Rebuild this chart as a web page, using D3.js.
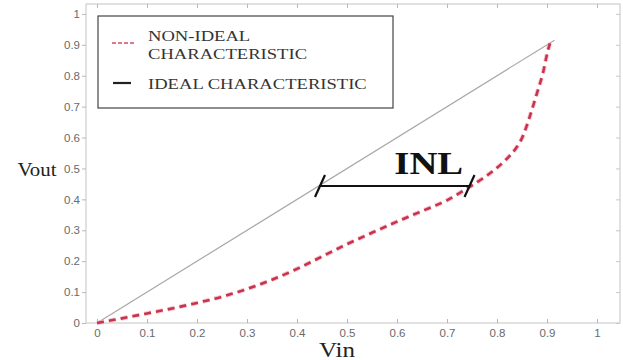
<!DOCTYPE html>
<html><head><meta charset="utf-8">
<script src="https://cdn.jsdelivr.net/npm/d3@7"></script>
<style>body{margin:0;background:#fff}svg{display:block}
.serif{font-family:"Liberation Serif","Times New Roman",Times,serif}
.sans{font-family:"Liberation Sans",Arial,sans-serif}</style>
</head><body>
<svg id="c" width="623" height="360"></svg>
<script>
// ---- data ----
const xTicks = [0,0.1,0.2,0.3,0.4,0.5,0.6,0.7,0.8,0.9,1];
const yTicks = [0,0.1,0.2,0.3,0.4,0.5,0.6,0.7,0.8,0.9,1];
const xTickLabels = ["0","0.1","0.2","0.3","0.4","0.5","0.6","0.7","0.8","0.9","1"];
const yTickLabels = ["0","0.1","0.2","0.3","0.4","0.5","0.6","0.7","0.8","0.9","1"];
const idealX = [0, 0.915];
const idealY = [0, 0.915];
const nonIdealX = [0,0.05,0.1,0.15,0.2,0.25,0.3,0.35,0.4,0.45,0.5,0.55,0.6,0.65,0.7,0.74,0.77,0.8,0.82,0.84,0.85,0.865,0.88,0.892,0.902,0.906];
const nonIdealY = [0,0.015,0.031,0.047,0.065,0.085,0.11,0.14,0.175,0.215,0.255,0.292,0.328,0.362,0.397,0.435,0.466,0.502,0.532,0.57,0.598,0.665,0.744,0.809,0.883,0.905];
const inlY = 0.443, inlX0 = 0.446, inlX1 = 0.745;
const legendLabels = [["NON-IDEAL","CHARACTERISTIC"],["IDEAL CHARACTERISTIC"]];

// ---- layout ----
const svg = d3.select("#c");
const L = 86, R = 620, T = 4, B = 323;
const x = d3.scaleLinear().domain([-0.022, 1.046]).range([L, R]);
const y = d3.scaleLinear().domain([0, 1.032]).range([B, T]);

function label(px, py, txt, size, sx, anchor, extra){
  const t = svg.append("text").attr("class","serif")
    .attr("transform",`translate(${px},${py}) scale(${sx},1)`)
    .attr("text-anchor",anchor).style("font-size",size+"px").attr("fill","#222").text(txt);
  if (extra) extra(t);
  return t;
}

// axes box
svg.append("rect").attr("x",L).attr("y",T).attr("width",R-L).attr("height",B-T)
  .attr("fill","none").attr("stroke","#c4c4c4").attr("stroke-width",1);

// x ticks bottom (inward) and top
const gx = svg.append("g").attr("transform",`translate(0,${B})`)
  .call(d3.axisBottom(x).tickValues(xTicks).tickSizeInner(-4).tickSizeOuter(0)
    .tickPadding(6).tickFormat((d,i)=>xTickLabels[i]));
gx.select(".domain").remove();
gx.selectAll("line").attr("stroke","#b8b8b8");
gx.selectAll("text").attr("class","sans").attr("fill","#6a6a6a").style("font-size","11.5px");
const gxt = svg.append("g").attr("transform",`translate(0,${T})`)
  .call(d3.axisTop(x).tickValues(xTicks).tickSizeInner(-4).tickSizeOuter(0).tickFormat(""));
gxt.select(".domain").remove();
gxt.selectAll("line").attr("stroke","#b8b8b8");

// y ticks
const gy = svg.append("g").attr("transform",`translate(${L},0)`)
  .call(d3.axisLeft(y).tickValues(yTicks).tickSizeInner(4).tickSizeOuter(0)
    .tickPadding(2).tickFormat((d,i)=>yTickLabels[i]));
gy.select(".domain").remove();
gy.selectAll("line").attr("stroke","#b8b8b8");
gy.selectAll("text").attr("class","sans").attr("fill","#6a6a6a").style("font-size","11.5px");
const gyr = svg.append("g").attr("transform",`translate(${R},0)`)
  .call(d3.axisRight(y).tickValues(yTicks).tickSizeInner(-4).tickSizeOuter(0).tickFormat(""));
gyr.select(".domain").remove();
gyr.selectAll("line").attr("stroke","#c8c8c8");

// ideal line
const line = d3.line().x(d=>x(d[0])).y(d=>y(d[1]));
svg.append("path").datum(idealX.map((v,i)=>[v,idealY[i]])).attr("d",line)
  .attr("fill","none").attr("stroke","#a8a8a8").attr("stroke-width",1.2);

// non-ideal curve
const curve = d3.line().x(d=>x(d[0])).y(d=>y(d[1])).curve(d3.curveMonotoneX);
const nd = nonIdealX.map((v,i)=>[v,nonIdealY[i]]);
svg.append("path").datum(nd).attr("d",curve).attr("fill","none")
  .attr("stroke","#f3b0bc").attr("stroke-width",4.5).attr("stroke-dasharray","7,5").attr("opacity",0.7);
svg.append("path").datum(nd).attr("d",curve).attr("fill","none")
  .attr("stroke","#c8344e").attr("stroke-width",2.6).attr("stroke-dasharray","7,5");

// INL annotation
svg.append("line").attr("x1",x(inlX0)).attr("x2",x(inlX1)).attr("y1",y(inlY)).attr("y2",y(inlY))
  .attr("stroke","#111").attr("stroke-width",2);
[inlX0, inlX1].forEach(v=>{
  svg.append("line").attr("x1",x(v)-5).attr("y1",y(inlY)+11).attr("x2",x(v)+5).attr("y2",y(inlY)-11)
    .attr("stroke","#111").attr("stroke-width",2.2);
});
label((x(inlX0)+x(inlX1))/2+34, 174, "INL", 31, 1.25, "middle",
  t=>t.style("font-weight","bold").attr("fill","#111"));

// axis labels
label(37, 176, "Vout", 19, 1.1, "middle");
label(337, 357, "Vin", 20, 1.25, "middle");

// legend
svg.append("rect").attr("x",98).attr("y",16).attr("width",295).attr("height",92)
  .attr("fill","#fff").attr("stroke","#444").attr("stroke-width",1.2);
svg.append("line").attr("x1",112).attr("x2",134).attr("y1",43).attr("y2",43)
  .attr("stroke","#d84a60").attr("stroke-width",1.3).attr("stroke-dasharray","4,2");
svg.append("line").attr("x1",113).attr("x2",131).attr("y1",83).attr("y2",83)
  .attr("stroke","#222").attr("stroke-width",2.2);
[[legendLabels[0][0],41],[legendLabels[0][1],59],[legendLabels[1][0],89]].forEach(([t,yy])=>{
  label(148, yy, t, 15.5, 1.2, "start", s=>s.attr("fill","#333"));
});
</script>
</body></html>
